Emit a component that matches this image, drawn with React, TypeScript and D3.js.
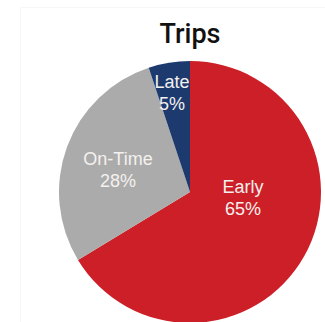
import React from 'react';
import * as d3 from 'd3';

const categories = ['Early', 'On-Time', 'Late'];
const values = [65, 28, 5];
const pctLabels = ['65%', '28%', '5%'];
const colors = ['#cd1f27', '#ababab', '#1d3a6f'];

// first-line baseline of each label, relative to pie centre (px)
const labelOffsets: [number, number][] = [[53, 1], [-72, -27], [-18, -104]];

const W = 325;
const H = 322;
const cx = 190;
const cy = 192;
const radius = 131;

const App: React.FC = () => {
    const pie = d3.pie<number>().sort(null).startAngle(0).endAngle(2 * Math.PI);
    const arcs = pie(values);
    const arcGen = d3.arc<d3.PieArcDatum<number>>().innerRadius(0).outerRadius(radius);

    return (
        <svg width={W} height={H} style={{ position: 'fixed', top: 0, left: 0, background: '#fff' }}>
            <rect x={20.5} y={7.5} width={310} height={320} fill="none" stroke="#f7f7f7" />
            <text x={cx} y={43} textAnchor="middle" fontFamily="Roboto, 'Liberation Sans', sans-serif"
                fontWeight={500} fontSize={27} fill="#111">Trips</text>
            <g transform={`translate(${cx},${cy})`}>
                {arcs.map((a, i) => (
                    <path key={categories[i]} d={arcGen(a) || ''} fill={colors[i]} />
                ))}
                {arcs.map((a, i) => (
                    <text key={'l' + i} textAnchor="middle"
                        fontFamily="'Liberation Sans', Arial, sans-serif" fontSize={18} fill="#f4f1ee">
                        <tspan x={labelOffsets[i][0]} y={labelOffsets[i][1]}>{categories[i]}</tspan>
                        <tspan x={labelOffsets[i][0]} y={labelOffsets[i][1] + 22}>{pctLabels[i]}</tspan>
                    </text>
                ))}
            </g>
        </svg>
    );
};

export default App;
